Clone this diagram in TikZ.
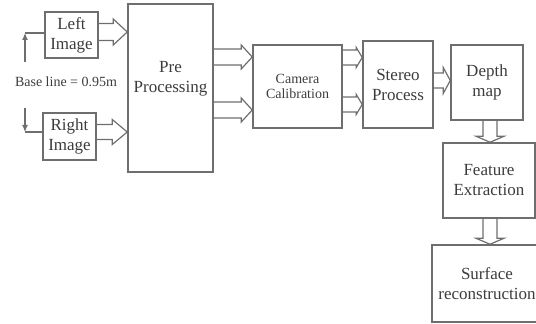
\documentclass[tikz,border=0pt]{standalone}
\usepackage{fontspec}
\setmainfont{Liberation Serif}
\usetikzlibrary{arrows.meta, calc}
\definecolor{stereoline}{HTML}{6E6E6E}
\definecolor{stereotext}{HTML}{3C3C3C}
% hollow block arrow: start, end, shaft half width, head half width, head length
\newcommand{\fatarrow}[5]{%
  \coordinate (fa-s) at ($(#2)!#5!(#1)$);
  \draw[fatarr] ($(#1)!#3!90:(#2)$) -- ($(fa-s)!#3!90:(#2)$) -- ($(fa-s)!#4!90:(#2)$)
    -- (#2) -- ($(fa-s)!#4!-90:(#2)$) -- ($(fa-s)!#3!-90:(#2)$) -- ($(#1)!#3!-90:(#2)$);
}
\begin{document}
\begin{tikzpicture}[x=0.5pt, y=-0.5pt,
    blk/.style={draw=stereoline, line width=0.75pt, inner sep=0pt, align=center,
      text=stereotext, font=\fontsize{8.5}{10}\selectfont},
    fatarr/.style={draw=stereoline, line width=0.6pt, line join=miter},
    dimarr/.style={stereoline, line width=0.6pt, -{Latex[length=3.5pt, width=3pt]}}
  ]
    \useasboundingbox (0,0) rectangle (536,324);
    \clip (0,0) rectangle (536,324);
    \node[blk, minimum width=26.5pt, minimum height=23pt] (left) at (71.5,35) {Left\\Image};
    \node[blk, minimum width=26.5pt, minimum height=23.5pt] (right) at (69.5,136.5) {Right\\Image};
    \node[blk, minimum width=42.5pt, minimum height=84pt, text depth=11pt] (pre) at (170.5,88) {Pre\\Processing};
    \node[blk, minimum width=44.5pt, minimum height=41.5pt, font=\fontsize{7}{7.5}\selectfont] (cam) at (297.5,86.5) {Camera\\Calibration};
    \node[blk, minimum width=35pt, minimum height=43.5pt] (stereo) at (398,84.5) {Stereo\\Process};
    \node[blk, minimum width=36pt, minimum height=37.5pt] (depth) at (487,82.5) {Depth\\map};
    \node[blk, minimum width=46pt, minimum height=37.5pt] (feat) at (489,180.5) {Feature\\Extraction};
    \node[blk, minimum width=55pt, minimum height=38.5pt] (surf) at (487,283.5) {Surface\\reconstruction};
    % base line
    \coordinate (bt) at (25,33);
    \coordinate (bb) at (25,132);
    \draw[stereoline, line width=0.6pt] (bt) -- (left.west |- bt);
    \draw[stereoline, line width=0.6pt] (bb) -- (right.west |- bb);
    \draw[dimarr] (25,62) -- (bt);
    \draw[dimarr] (25,108) -- (bb);
    \node[text=stereotext, font=\fontsize{7}{8}\selectfont, inner sep=0pt] (base) at (66,82) {Base line = 0.95m};
    % block arrows
    \fatarrow{left.east |- 0,32}{pre.west |- 0,32}{4.25pt}{6.5pt}{7pt}
    \fatarrow{right.east |- 0,132}{pre.west |- 0,132}{3.75pt}{6.25pt}{7.5pt}
    \fatarrow{pre.east |- 0,57}{cam.west |- 0,57}{4pt}{6pt}{5.5pt}
    \fatarrow{pre.east |- 0,110}{cam.west |- 0,110}{4pt}{6pt}{5.5pt}
    \fatarrow{cam.east |- 0,57.5}{stereo.west |- 0,57.5}{3.75pt}{5pt}{3pt}
    \fatarrow{cam.east |- 0,104.5}{stereo.west |- 0,104.5}{3.75pt}{5pt}{3pt}
    \fatarrow{stereo.east |- 0,80.5}{depth.west |- 0,80.5}{3.75pt}{6.5pt}{3.5pt}
    \fatarrow{depth.south -| 490,0}{feat.north -| 490,0}{3.5pt}{7pt}{3pt}
    \fatarrow{feat.south -| 490,0}{surf.north -| 490,0}{3.5pt}{7pt}{3pt}
\end{tikzpicture}
\end{document}
